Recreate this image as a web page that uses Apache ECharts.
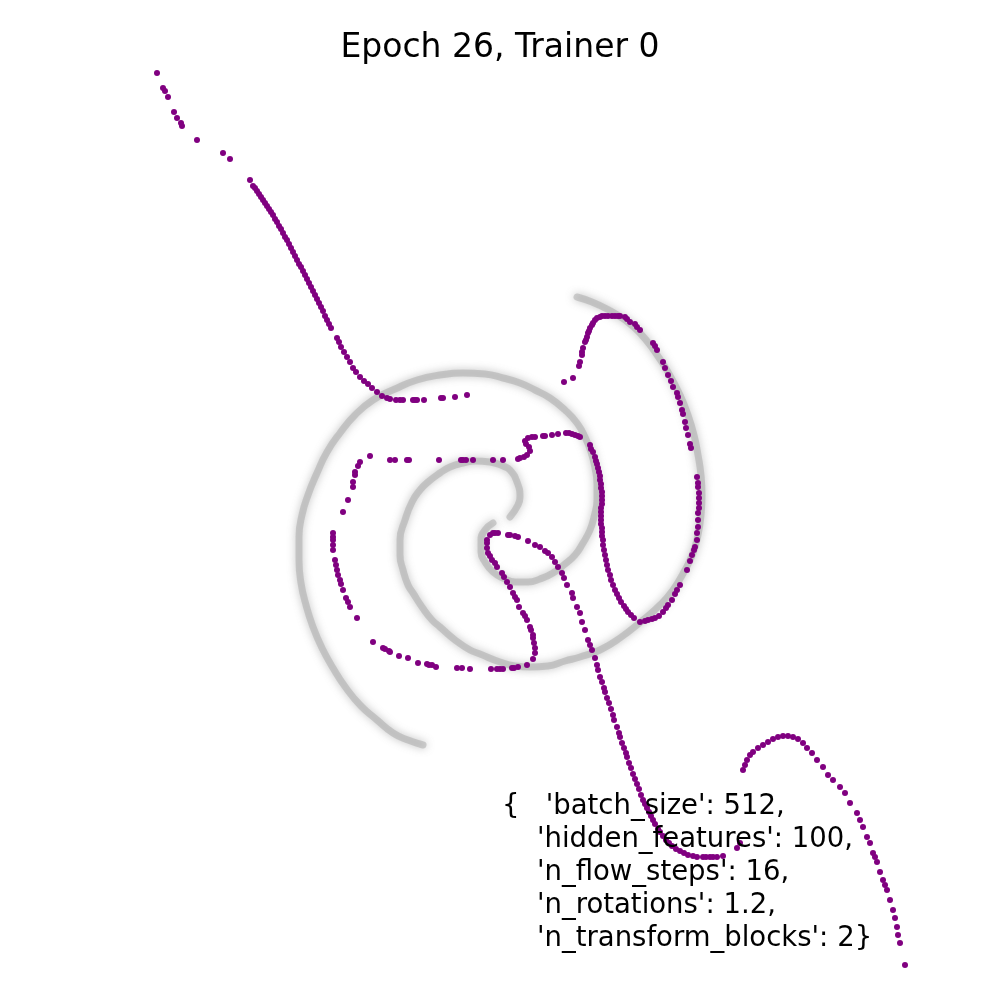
<!DOCTYPE html>
<html>
<head>
<meta charset="utf-8">
<script src="https://cdn.jsdelivr.net/npm/echarts@6/dist/echarts.min.js"></script>
<style>html,body{margin:0;padding:0;background:#fff}#c{width:1000px;height:1000px}</style>
</head>
<body>
<div id="c"></div>
<script>
// Title and annotation text
const titleText = 'Epoch 26, Trainer 0';
const paramLines = [
  "{   'batch_size': 512,",
  "    'hidden_features': 100,",
  "    'n_flow_steps': 16,",
  "    'n_rotations': 1.2,",
  "    'n_transform_blocks': 2}"
];

// Gray target spiral, two arms (plot coordinates, y downward)
const spiralArmA = [
  [510,517],[518,505],[520,497],[517,482],[510,470],[503,466],[490,462],[475,461],[463,463],[450,467],
  [440,473],[428,482],[420,490],[412,502],[405,520],[400,540],[400,555],[403,570],[408,585],[413,593],
  [422,607],[432,620],[440,627],[455,640],[470,650],[480,654],[500,662],[515,666],[530,667],[548,666],
  [565,661],[580,657],[600,650],[620,638],[643,620],[660,605],[673,590],[685,570],[693,553],[698,535],
  [701,515],[702,495],[701,475],[698,455],[694,435],[688,415],[680,395],[668,372],[655,352],[640,333],
  [625,320],[607,309],[592,302],[577,297]
];
const spiralArmB = [
  [493,523],[485,530],[481,540],[481,552],[485,562],[493,572],[503,578],[515,582],[528,582],[540,579],
  [553,573],[565,564],[575,555],[583,543],[590,530],[594,517],[597,500],[597,484],[595,468],[591,452],
  [585,437],[577,423],[565,410],[550,398],[535,390],[520,383],[503,378],[485,374],[463,373],[440,375],
  [417,380],[395,389],[373,400],[355,415],[340,433],[327,452],[317,473],[308,495],[302,515],[299,537],
  [299,560],[301,583],[306,605],[313,627],[322,648],[333,668],[346,688],[361,706],[377,720],[393,733],
  [408,740],[423,745]
];

// Purple samples
const samplesTail = [
  [157,73],[163,88],[165,91],[168,97],[174,112],[177,118],[181,123],[182,126],[197,140],[223,153],
  [230,159],[250,180],[253,186],[255,188],[257,191],[259,194],[261,197],[263,200],[265,203],[267,206],
  [269,209],[271,212],[273,215],[275,219],[277,222],[279,226],[281,229],[283,233],[285,237],[287,240],
  [289,244],[291,248],[293,252],[295,256],[297,260],[299,264],[301,267],[303,271],[305,275],[307,279],
  [309,283],[311,287],[313,291],[315,295],[317,299],[319,303],[321,307],[323,311],[325,316],[327,320],
  [329,324],[331,328],[337,338],[339,342],[341,347],[344,352],[347,357],[350,362],[353,368],[356,372],
  [360,377],[364,381],[368,384],[372,388],[377,392],[382,396],[387,398],[390,399],[396,400],[400,400],
  [403,400],[413,400],[415,400],[417,400],[424,400],[441,398],[443,398],[455,397],[467,395]
];
const samplesLoop = [
  [390,460],[395,460],[407,460],[409,460],[439,460],[461,460],[463,460],[466,460],[473,460],[493,460],
  [503,460],[518,459],[520,458],[524,457],[527,455],[530,451],[529,447],[526,444],[525,441],[528,438],
  [532,437],[535,437],[543,436],[545,436],[552,435],[558,434],[566,433],[569,433],[572,434],[575,435],
  [578,436],[580,437],[590,445],[591,449],[593,452],[595,457],[596,461],[597,464],[598,468],[599,472],
  [600,476],[600,480],[601,484],[601,488],[602,492],[602,496],[602,500],[602,504],[601,508],[601,512],
  [601,516],[601,520],[601,524],[602,528],[602,532],[602,536],[603,540],[603,545],[604,550],[605,555],
  [606,560],[607,565],[608,570],[610,575],[611,580],[613,585],[615,590],[617,594],[619,598],[621,602],
  [624,606],[626,609],[628,612],[631,615],[634,618],[640,622],[645,621],[648,620],[652,619],[655,618],
  [659,616],[663,612],[666,608],[668,605],[672,600],[675,594],[677,590],[680,585],[687,570],[690,561],
  [692,555],[694,550],[695,547],[697,540],[697,533],[698,527],[698,520],[698,513],[699,508],[699,503],
  [699,498],[699,493],[698,487],[698,483],[697,477],[691,448],[690,444],[688,435],[686,428],[685,422],
  [683,414],[682,410],[680,403],[678,397],[677,393],[673,387],[671,381],[668,375],[665,368],[663,362],
  [657,350],[655,346],[653,343],[640,330],[637,327],[635,324],[630,322],[627,319],[625,317],[620,316],
  [618,316],[615,316],[612,316],[608,316],[605,316],[602,316],[600,317],[597,318],[595,320],[593,323],
  [592,325],[590,328],[589,331],[588,333],[587,337],[586,340],[585,342],[583,348],[582,352],[582,355],
  [580,362],[579,366],[573,378],[564,382]
];
const samplesLeftArc = [
  [370,456],[360,462],[358,466],[355,472],[355,475],[353,482],[353,487],[348,500],[343,512],[333,533],
  [333,537],[333,540],[333,545],[333,550],[335,560],[336,565],[337,570],[338,575],[340,580],[341,584],
  [343,590],[346,598],[348,602],[350,607],[357,618],[373,642],[383,648],[385,649],[389,651],[390,652],
  [399,656],[408,658],[418,663],[427,664],[429,665],[432,665],[436,667],[457,668],[462,668],[470,669],
  [491,669],[497,669],[500,669],[503,669],[512,668],[514,668],[518,667],[527,665],[533,659],[535,653],
  [535,648],[534,643],[533,638],[533,635],[531,630],[530,627],[527,620],[525,616],[523,613],[519,607],
  [517,600],[515,597],[513,593],[510,587],[507,582],[504,577],[502,573],[497,567],[495,563],[492,560],
  [490,556],[488,553],[487,548],[487,543],[487,540],[490,535],[493,533],[495,533],[498,533],[508,535],
  [510,535],[515,536],[518,537],[528,541]
];
const samplesDrop = [
  [535,545],[540,547],[545,551],[548,553],[552,557],[555,562],[558,567],[562,573],[564,578],[567,585],
  [572,593],[573,598],[577,607],[580,613],[582,622],[585,630],[588,640],[590,645],[592,650],[595,658],
  [597,665],[598,670],[600,677],[602,682],[604,688],[605,692],[607,698],[609,703],[611,709],[613,715],
  [614,720],[617,727],[619,733],[620,737],[622,743],[624,748],[626,753],[627,757],[629,763],[631,768],
  [633,774],[635,779],[637,784],[639,789],[641,795],[643,800],[645,804],[647,808],[649,812],[651,816],
  [653,820],[655,824],[658,829],[660,832],[663,836],[666,840],[669,843],[672,846],[676,849],[680,851],
  [684,853],[688,855],[693,856],[697,857],[703,857],[706,857],[710,857],[713,857],[717,857],[723,856],
  [737,848],[740,843]
];
const samplesArch = [
  [743,770],[745,765],[747,760],[750,755],[753,752],[758,748],[763,745],[768,742],[773,739],[778,737],
  [783,736],[788,736],[793,737],[798,739],[803,743],[807,748],[812,753],[817,760],[823,767],[828,775],
  [833,780],[840,787],[845,793],[850,803],[857,813],[860,820],[863,827],[867,837],[870,843],[873,853],
  [875,857],[877,862],[880,872],[883,880],[885,885],[887,890],[890,900],[893,910],[895,918],[897,927],
  [898,935],[900,943],[905,965]
];

const purple = '#800080';
const chart = echarts.init(document.getElementById('c'), null, {renderer: 'canvas'});

function spiralSeries(data) {
  return {
    type: 'line', data: data, smooth: 0.5, symbol: 'none', silent: true, z: 1,
    lineStyle: {width: 7, color: 'rgba(160,160,160,0.45)', shadowBlur: 8, shadowColor: 'rgba(110,110,110,0.9)', cap: 'round'}
  };
}
function sampleSeries(data) {
  return {
    type: 'scatter', data: data, symbol: 'circle', symbolSize: 6, silent: true, z: 3,
    itemStyle: {color: purple, opacity: 1}
  };
}

chart.setOption({
  animation: false,
  backgroundColor: '#ffffff',
  title: {
    text: titleText, left: 'center', top: 27,
    textStyle: {fontFamily: 'DejaVu Sans', fontSize: 33, fontWeight: 'normal', color: '#000'}
  },
  grid: {left: 0, right: 0, top: 0, bottom: 0},
  xAxis: {type: 'value', min: 0, max: 1000, show: false},
  yAxis: {type: 'value', min: 0, max: 1000, inverse: true, show: false},
  series: [
    spiralSeries(spiralArmA), spiralSeries(spiralArmB),
    sampleSeries(samplesTail), sampleSeries(samplesLoop), sampleSeries(samplesLeftArc),
    sampleSeries(samplesDrop), sampleSeries(samplesArch)
  ],
  graphic: paramLines.map(function (t, i) {
    return {
      type: 'text', left: 502, top: 793 + i * 33, z: 10,
      style: {text: t, fontFamily: 'DejaVu Sans', fontSize: 27.5, fill: '#000'}
    };
  })
});
</script>
</body>
</html>
